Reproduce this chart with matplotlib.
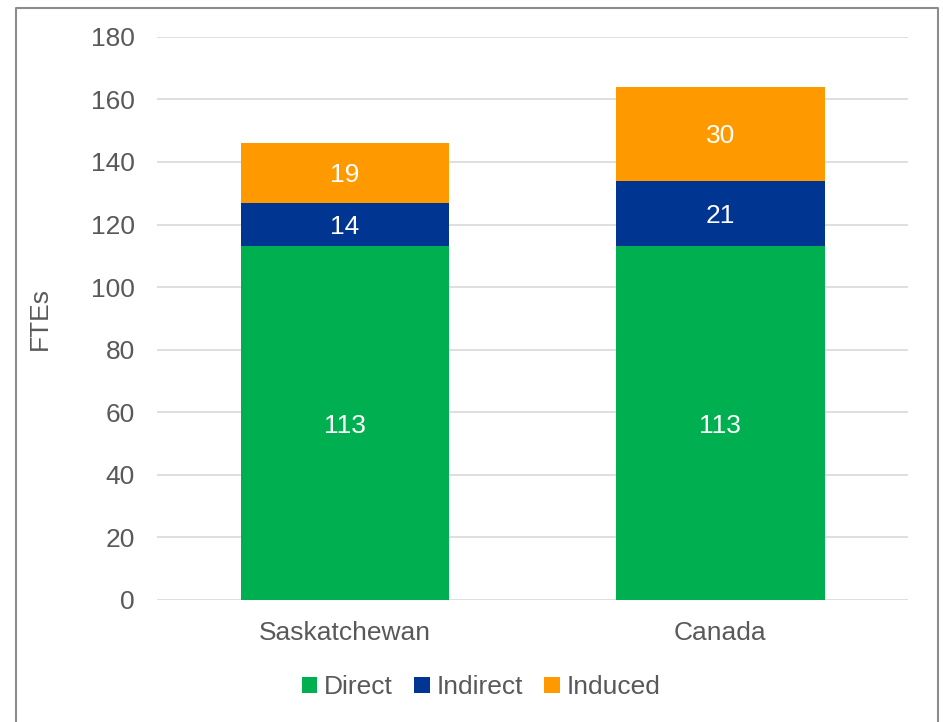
import numpy as np
import matplotlib.pyplot as plt
from matplotlib.lines import Line2D

plt.rcParams['font.family'] = ['Liberation Sans', 'DejaVu Sans']

regions = ['Saskatchewan', 'Canada']
direct = [113, 113]
indirect = [14, 21]
induced = [19, 30]

series = [('Direct', direct, '#00b050'),
          ('Indirect', indirect, '#003591'),
          ('Induced', induced, '#ff9900')]

text_col = '#595959'
fs = 19

fig = plt.figure(figsize=(9.43, 7.22), dpi=100)
ax = fig.add_axes([0.1665, 0.169, 0.7965, 0.78])

x = np.arange(len(regions))
bottom = np.zeros(len(regions))
for name, vals, col in series:
    bars = ax.bar(x, vals, 0.555, bottom=bottom, color=col, label=name, zorder=3)
    for b, v, b0 in zip(bars, vals, bottom):
        ax.text(b.get_x() + b.get_width() / 2, b0 + v / 2, str(v),
                ha='center', va='center_baseline', color='white', fontsize=fs, zorder=4)
    bottom += np.array(vals)

ax.set_xlim(-0.5, 1.5)
ax.set_ylim(0, 180)
ax.set_yticks(range(0, 181, 20))
ax.set_xticks(x)
ax.set_xticklabels(regions)
ax.tick_params(length=0, labelsize=fs, labelcolor=text_col)
ax.tick_params(axis='y', pad=16)
ax.tick_params(axis='x', pad=15)
ax.grid(axis='y', color='#d9d9d9', lw=1.2, zorder=0)
for s in ax.spines.values():
    s.set_visible(False)
ax.set_ylabel('FTEs', fontsize=fs, color=text_col, labelpad=28)

ax.legend(loc='center', bbox_to_anchor=(0.51, 0.048), bbox_transform=fig.transFigure,
          ncol=3, frameon=False, fontsize=fs, labelcolor=text_col,
          handlelength=0.6, handleheight=0.6, handletextpad=0.25, columnspacing=0.8)

# outer frame (left, top and right edges)
fx = [15.5 / 943, 15.5 / 943, 937.5 / 943, 937.5 / 943]
fy = [0.0, 1 - 7.5 / 722, 1 - 7.5 / 722, 0.0]
fig.add_artist(Line2D(fx, fy, transform=fig.transFigure, color='#8c8c8c', lw=1.5))

fig.savefig('out.png', dpi=100)
